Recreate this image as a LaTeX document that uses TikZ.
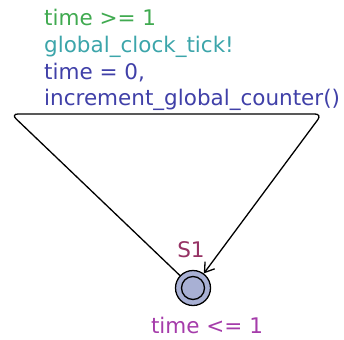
\documentclass[tikz,border=0pt]{standalone}
\usepackage{fontspec}
\setmainfont{DejaVu Sans}
\usetikzlibrary{arrows.meta}

\definecolor{guardcol}{RGB}{64,170,80}
\definecolor{synccol}{RGB}{60,165,170}
\definecolor{assigncol}{RGB}{64,64,168}
\definecolor{namecol}{RGB}{150,50,100}
\definecolor{invcol}{RGB}{165,60,170}
\definecolor{locfill}{RGB}{168,176,212}

\tikzset{
  lbl/.style={font=\fontsize{21.5}{26}\selectfont, inner sep=0pt},
  location/.style={circle, draw, line width=1.3pt, fill=locfill, minimum size=35pt, inner sep=0pt},
  initmark/.style={circle, draw, line width=1.3pt, minimum size=23pt, inner sep=0pt},
}

\begin{document}
\begin{tikzpicture}[x=1pt,y=-1pt]
        \useasboundingbox (0,0) rectangle (344,339);
        % location and its labels
        \node[location] (s1) at (193,288) {};
        \node[initmark] (s1init) at (s1) {};
        \node[lbl,text=namecol] (s1name) at (191,250) {S1};
        \node[lbl,text=invcol,anchor=base] (s1inv) at (207,333) {time <= 1};
        % edge labels
        \node[lbl,text=guardcol,anchor=base west] (guard) at (44,26) {time >= 1};
        \node[lbl,text=synccol,anchor=base west] (sync) at (44,53) {global\_clock\_tick!};
        \node[lbl,text=assigncol,anchor=base west] (upd1) at (44,80) {time = 0,};
        \node[lbl,text=assigncol,anchor=base west] (upd2) at (44,106) {increment\_global\_counter()};
        % self loop
        \coordinate (nailleft) at (11,114);
        \coordinate (nailright) at (322,114);
        \draw[line width=1.3pt,rounded corners=7pt,-{Straight Barb[length=9pt,width=12pt]}] (s1) -- (nailleft) -- (nailright) -- (s1);
    \end{tikzpicture}
\end{document}
